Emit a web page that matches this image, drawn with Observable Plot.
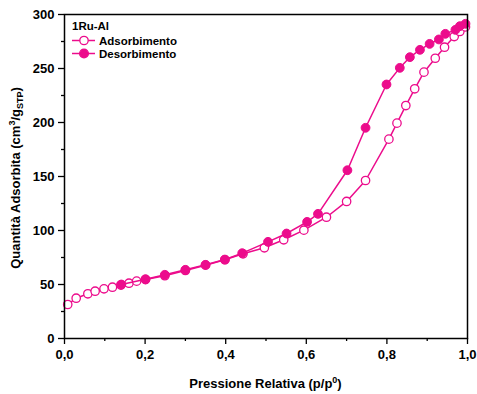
<!DOCTYPE html>
<html><head><meta charset="utf-8">
<script src="https://cdn.jsdelivr.net/npm/d3@7"></script>
<script src="https://cdn.jsdelivr.net/npm/@observablehq/plot@0.6"></script>
<style>body{margin:0;background:#fff}#chart{width:477px;height:394px}</style>
</head><body><div id="chart"></div>
<script>
const sampleName = "1Ru-Al";
const seriesNames = ["Adsorbimento", "Desorbimento"];
const adsP = [0.008,0.029,0.058,0.076,0.098,0.119,0.140,0.160,0.179,0.201,0.249,0.300,0.350,0.398,0.443,0.496,0.544,0.594,0.650,0.700,0.747,0.805,0.825,0.847,0.869,0.892,0.920,0.943,0.967,0.981,0.995];
const adsV = [31.5,37.3,41.4,43.8,46.0,47.5,49.5,51.2,53.1,54.6,58.1,63.0,67.9,72.9,78.4,84.0,91.4,100.3,112.3,126.9,146.3,184.6,199.4,215.7,231.2,246.6,259.5,269.7,279.6,284.3,288.5];
const desP = [0.995,0.981,0.970,0.945,0.929,0.906,0.882,0.857,0.832,0.799,0.747,0.702,0.629,0.602,0.551,0.505,0.441,0.398,0.350,0.300,0.249,0.201,0.141];
const desV = [291.4,289.2,285.8,282.1,276.9,272.8,267.3,260.5,250.6,235.2,195.1,155.8,115.4,108.0,97.2,89.5,79.0,73.1,68.2,63.6,59.0,54.9,50.0];
const xTicks = [0,0.2,0.4,0.6,0.8,1.0];
const xMinor = [0.1,0.3,0.5,0.7,0.9];
const yTicks = [0,50,100,150,200,250,300];
const yMinor = [25,75,125,175,225,275];

const ads = adsP.map((p,i)=>({p, v: adsV[i]}));
const des = desP.map((p,i)=>({p, v: desV[i]}));
const color = "#ec0c8c";
const fmt = d => d.toFixed(1).replace(".", ",");
const font = "'Liberation Sans', Arial, sans-serif";

const plot = Plot.plot({
  width: 477, height: 394,
  marginLeft: 64, marginRight: 10, marginTop: 14, marginBottom: 56,
  style: {fontFamily: font, fontSize: "13px", fontWeight: "bold", background: "#fff", color: "#000"},
  x: {domain: [0, 1], label: null},
  y: {domain: [0, 300], label: null},
  marks: [
    Plot.axisX(xTicks, {tickSize: 6, tickPadding: 5, tickFormat: fmt, label: null, strokeWidth: 1.3}),
    Plot.axisX(xMinor, {tickSize: 3, tickFormat: () => "", label: null, strokeWidth: 1.3}),
    Plot.axisY(yTicks, {tickSize: 6, tickPadding: 4, label: null, strokeWidth: 1.3}),
    Plot.axisY(yMinor, {tickSize: 3, tickFormat: () => "", label: null, strokeWidth: 1.3}),
    Plot.line(ads, {x: "p", y: "v", stroke: color, strokeWidth: 1.5}),
    Plot.dot(ads, {x: "p", y: "v", r: 4.2, fill: "white", stroke: color, strokeWidth: 1.3}),
    Plot.line(des, {x: "p", y: "v", stroke: color, strokeWidth: 1.5}),
    Plot.dot(des, {x: "p", y: "v", r: 4.4, fill: color, stroke: color, strokeWidth: 1}),
    Plot.frame({stroke: "black", strokeWidth: 1.5})
  ]
});
document.getElementById("chart").appendChild(plot);

const svg = d3.select(plot);
// y label
const yl = svg.append("text")
  .attr("transform", "translate(20,178) rotate(-90)")
  .attr("text-anchor", "middle")
  .style("font-family", font).style("font-weight", "bold").style("font-size", "13px").attr("fill", "#000");
yl.append("tspan").text("Quantità Adsorbita (cm");
yl.append("tspan").attr("dy", -5).style("font-size", "9px").text("3");
yl.append("tspan").attr("dy", 5).text("/g");
yl.append("tspan").attr("dy", 3).style("font-size", "9px").text("STP");
yl.append("tspan").attr("dy", -3).text(")");
// x label
const xl = svg.append("text")
  .attr("x", 265.5).attr("y", 388)
  .attr("text-anchor", "middle")
  .style("font-family", font).style("font-weight", "bold").style("font-size", "13px").attr("fill", "#000");
xl.append("tspan").text("Pressione Relativa (p/p");
xl.append("tspan").attr("dy", -5).style("font-size", "9px").text("0");
xl.append("tspan").attr("dy", 5).text(")");
// legend
const lg = svg.append("g").attr("text-anchor", "start")
  .style("font-family", font).style("font-weight", "bold").style("font-size", "11.5px");
lg.append("text").attr("x", 72).attr("y", 30).text(sampleName);
seriesNames.forEach((name, i) => {
  const y = 40.5 + i * 13;
  lg.append("line").attr("x1", 72).attr("x2", 95).attr("y1", y).attr("y2", y).attr("stroke", color).attr("stroke-width", 1.5);
  lg.append("circle").attr("cx", 84).attr("cy", y).attr("r", i === 0 ? 4.2 : 4.4)
    .attr("fill", i === 0 ? "white" : color).attr("stroke", color).attr("stroke-width", 1.3);
  lg.append("text").attr("x", 99).attr("y", y + 4).text(name);
});
</script>
</body></html>
